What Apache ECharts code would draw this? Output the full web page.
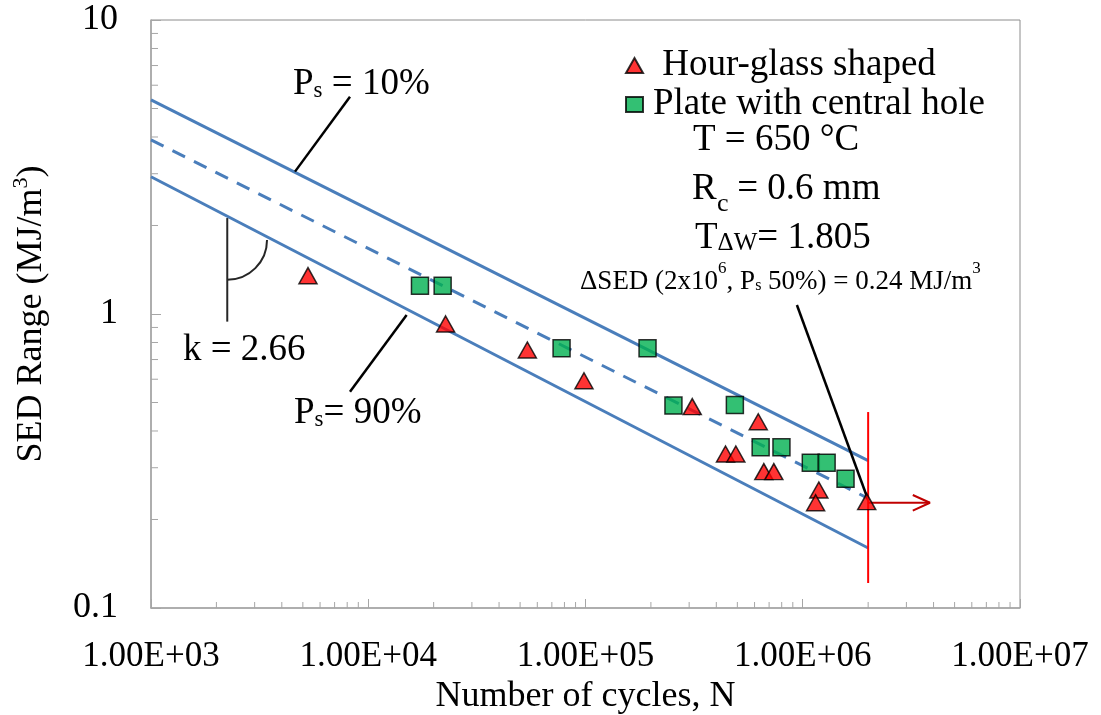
<!DOCTYPE html>
<html><head><meta charset="utf-8">
<script src="https://cdn.jsdelivr.net/npm/echarts@6/dist/echarts.min.js"></script>
<style>html,body{margin:0;padding:0;background:#fff}#c{width:1101px;height:715px}</style>
</head><body><div id="c"></div>
<script>
// ---- data ----
const xTickLabels = ['1.00E+03','1.00E+04','1.00E+05','1.00E+06','1.00E+07'];
const yTickLabels = ['0.1','1','10'];
const hourGlass = [[5280,1.35],[22700,0.925],[54000,0.754],[98400,0.593],[310000,0.484],[624000,0.430],[441000,0.334],[492000,0.334],[662000,0.291],[736000,0.291],[1186000,0.252],[1146000,0.228],[1970000,0.230]];
const plate = [[17300,1.248],[22000,1.248],[77600,0.764],[193000,0.764],[254000,0.488],[487000,0.49],[640000,0.352],[798000,0.352],[1089000,0.312],[1288000,0.312],[1574000,0.275]];
const band10 = [[1000,5.35],[2000000,0.317]];
const band50 = [[1000,3.91],[2000000,0.236]];
const band90 = [[1000,2.93],[2000000,0.160]];
const runoutLine = [[2000000,0.464],[2000000,0.1216]];
const runoutArrow = [[2000000,0.228],[3850000,0.228]];
const arrowHead = [[3210000,0.2423],[3850000,0.228],[3210000,0.2143]];
const leader10 = [[4600,3.05],[8240,5.48]];
const leader90 = [[15020,0.992],[8240,0.544]];
const leaderSED = [[940000,1.073],[2000000,0.233]];
const slopeVertical = [[2244,2.12],[2244,0.942]];
const slopeArc = [[2244,1.785,3420]];

// ---- styling ----
const FONT = 'Liberation Serif';
const BLUE = '#4A7EBB';
const AXIS = '#A6A6A6';
const minorX = []; for (let e = 3; e < 7; e++) for (let m = 2; m < 10; m++) minorX.push([m * Math.pow(10, e), 0.1]);
const minorY = []; for (let e = -1; e < 1; e++) for (let m = 2; m < 10; m++) minorY.push([1000, +(m * Math.pow(10, e)).toPrecision(3)]);

function lineSeries(data, color, width, type) {
  return {type:'line', data, symbol:'none', silent:true, clip:false, z:2,
    lineStyle:{color, width, type: type || 'solid'}};
}
const M = (s) => ({fontFamily:FONT, fontSize:s, fill:'#000', verticalAlign:'middle'});
const SUB = (s, p) => ({fontFamily:FONT, fontSize:s, fill:'#000', verticalAlign:'middle', padding:[p,0,0,0]});
const SUP = (s, p) => ({fontFamily:FONT, fontSize:s, fill:'#000', verticalAlign:'middle', padding:[0,0,p,0]});
function txt(x, y, text, rich, size) {
  return {type:'text', x, y, silent:true, z:100,
    style:{text, fontFamily:FONT, fontSize:size || 37, fill:'#000', verticalAlign:'middle', align:'left', rich}};
}

const chart = echarts.init(document.getElementById('c'));
chart.setOption({
  animation:false,
  backgroundColor:'#fff',
  grid:{left:151, right:81, top:20, bottom:107, outerBoundsMode:'none', containLabel:false,
    show:true, borderColor:'#8C8C8C', borderWidth:1},
  legend:{
    orient:'vertical', left:625, top:46, padding:0, itemWidth:17, itemHeight:15, itemGap:0,
    data:['Hour-glass shaped','Plate with central hole'],
    formatter:(n) => n === 'Hour-glass shaped' ? ' ' + n : n,
    textStyle:{fontFamily:FONT, fontSize:37, color:'#000', lineHeight:39, padding:[0,0,0,5]}
  },
  xAxis:{
    type:'log', logBase:10, min:1000, max:10000000,
    name:'Number of cycles, N', nameLocation:'middle', nameGap:61,
    nameTextStyle:{fontFamily:FONT, fontSize:36, color:'#000'},
    axisLine:{lineStyle:{color:AXIS, width:1.5}},
    axisTick:{inside:true, length:9, lineStyle:{color:AXIS}},
    splitLine:{show:false},
    axisLabel:{margin:31, fontFamily:FONT, fontSize:35, color:'#000',
      formatter:(v) => xTickLabels[Math.round(Math.log10(v)) - 3]}
  },
  yAxis:{
    type:'log', logBase:10, min:0.1, max:10,
    name:'SED Range (MJ/m{sup|3})', nameLocation:'middle', nameGap:97,
    nameTextStyle:{fontFamily:FONT, fontSize:36, color:'#000',
      rich:{sup:SUP(22, 22)}},
    axisLine:{lineStyle:{color:AXIS, width:1.5}},
    axisTick:{inside:true, length:10, lineStyle:{color:AXIS}},
    splitLine:{show:false},
    axisLabel:{margin:33, fontFamily:FONT, fontSize:36, color:'#000',
      formatter:(v) => yTickLabels[Math.round(Math.log10(v)) + 1]}
  },
  series:[
    {type:'custom', silent:true, z:1, clip:false, data:minorX,
      renderItem:(p, api) => { const c = api.coord([api.value(0), api.value(1)]);
        return {type:'line', shape:{x1:c[0], y1:c[1], x2:c[0], y2:c[1] - 6}, style:{stroke:AXIS, lineWidth:1}}; }},
    {type:'custom', silent:true, z:1, clip:false, data:minorY,
      renderItem:(p, api) => { const c = api.coord([api.value(0), api.value(1)]);
        return {type:'line', shape:{x1:c[0], y1:c[1], x2:c[0] + 7, y2:c[1]}, style:{stroke:AXIS, lineWidth:1}}; }},
    lineSeries(band10, BLUE, 3),
    lineSeries(band50, BLUE, 3, [14, 10]),
    lineSeries(band90, BLUE, 3),
    lineSeries(leader10, '#000', 2.5),
    lineSeries(leader90, '#000', 2.5),
    lineSeries(leaderSED, '#000', 2.5),
    lineSeries(slopeVertical, '#262626', 2),
    {type:'custom', silent:true, z:2, clip:false, data:slopeArc,
      renderItem:(p, api) => { const c = api.coord([api.value(0), api.value(1)]);
        const e = api.coord([api.value(2), api.value(1)]);
        return {type:'arc', shape:{cx:c[0], cy:c[1], r:e[0] - c[0], startAngle:0, endAngle:Math.PI / 2, clockwise:true},
          style:{stroke:'#262626', lineWidth:2, fill:null}}; }},
    lineSeries(runoutLine, '#FF0000', 2),
    lineSeries(runoutArrow, '#C00000', 2),
    lineSeries(arrowHead, '#C00000', 2),
    {type:'scatter', name:'Plate with central hole', data:plate, symbol:'rect', symbolSize:17, z:5,
      itemStyle:{color:'#00B050', borderColor:'#000', borderWidth:1.5}},
    {type:'scatter', name:'Hour-glass shaped', data:hourGlass, symbol:'triangle', symbolSize:[18,16], z:6,
      itemStyle:{color:'#FF0000', borderColor:'#000', borderWidth:1.5}}
  ],
  graphic:[
    txt(293, 84, '{m|P}{s|s}{m| = 10%}', {m:M(37), s:SUB(23, 13)}),
    txt(183, 350, 'k = 2.66'),
    txt(294, 413, '{m|P}{s|s}{m|= 90%}', {m:M(37), s:SUB(23, 13)}),
    txt(693, 140, 'T = 650 °C'),
    txt(692, 189, 'R'),
    txt(717, 204, 'c', null, 26),
    txt(728, 189, ' = 0.6 mm'),
    txt(695, 238, '{m|T}{s|ΔW}{m|= 1.805}', {m:M(37), s:SUB(25, 11)}),
    txt(580, 282, '{a|ΔSED (2x10}{p|6}{a|, P}{b|s}{a| 50%) = 0.24 MJ/m}{p|3}',
      {a:M(27), p:SUP(17, 26), b:SUB(16, 8)}, 27)
  ]
});
</script></body></html>
